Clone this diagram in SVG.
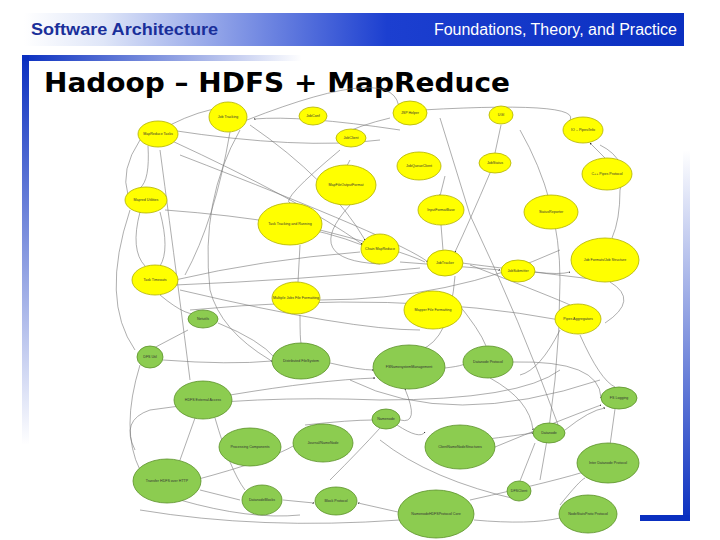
<svg xmlns="http://www.w3.org/2000/svg" width="720" height="540" viewBox="0 0 720 540">
<defs>
<linearGradient id="hdr" x1="0" x2="1" y1="0" y2="0"><stop offset="0" stop-color="#ffffff"/><stop offset="0.12" stop-color="#dfe6f8"/><stop offset="0.55" stop-color="#1c3fd0"/><stop offset="1" stop-color="#0a2fc0"/></linearGradient>
<linearGradient id="topbar" x1="0" x2="1"><stop offset="0" stop-color="#0a2fc0"/><stop offset="1" stop-color="#0a2fc0" stop-opacity="0"/></linearGradient>
<linearGradient id="leftbar" x1="0" x2="0" y1="0" y2="1"><stop offset="0" stop-color="#0a2fc0"/><stop offset="1" stop-color="#0a2fc0" stop-opacity="0"/></linearGradient>
<linearGradient id="rightbar" x1="0" x2="0" y1="0" y2="1"><stop offset="0" stop-color="#0a2fc0" stop-opacity="0"/><stop offset="1" stop-color="#0a2fc0"/></linearGradient>
<marker id="ah" viewBox="0 0 6 6" refX="5" refY="3" markerWidth="3" markerHeight="3" orient="auto"><path d="M0 0L6 3L0 6z" fill="#222"/></marker>
</defs>
<style>
.y{fill:#ffff00;stroke:#b0b000;stroke-width:0.8}
.g{fill:#8ccc50;stroke:#5a9028;stroke-width:0.8}
.t{font-family:"Liberation Sans",Arial,sans-serif;font-size:3.6px;fill:#333;text-anchor:middle}
#edges path{fill:none;stroke:#777;stroke-width:0.6}
.a{marker-end:url(#ah)}
</style>
<rect x="24" y="13" width="660" height="33" fill="url(#hdr)"/>
<text x="31" y="35" font-family="Liberation Sans,Arial,sans-serif" font-size="17" font-weight="bold" fill="#1a2f9a" textLength="187" lengthAdjust="spacingAndGlyphs">Software Architecture</text>
<text x="677" y="35" font-family="Liberation Sans,Arial,sans-serif" font-size="16" fill="#ffffff" text-anchor="end">Foundations, Theory, and Practice</text>
<rect x="22" y="55" width="280" height="6" fill="url(#topbar)"/>
<rect x="22" y="55" width="7" height="390" fill="url(#leftbar)"/>
<rect x="683" y="150" width="7" height="371" fill="url(#rightbar)"/>
<rect x="640" y="515" width="50" height="6" fill="#0a2fc0"/>
<text x="44" y="92" font-family="DejaVu Sans,Verdana,sans-serif" font-size="27" font-weight="bold" fill="#000" textLength="466" lengthAdjust="spacingAndGlyphs">Hadoop – HDFS + MapReduce</text>
<g id="edges">
<path class="a" d="M170 125 Q200 110 222 108"/>
<path class="a" d="M247 120 Q400 60 399 111"/>
<path class="a" d="M400 130 Q300 115 254 119"/>
<path class="a" d="M390 118 Q360 125 338 136"/>
<path d="M422 110 Q600 100 565 125"/>
<path d="M170 130 Q300 150 380 140"/>
<path d="M140 140 Q120 170 128 195"/>
<path d="M148 146 Q150 180 140 188"/>
<path d="M140 212 Q130 250 145 266"/>
<path d="M160 212 Q170 250 160 266"/>
<path class="a" d="M165 210 Q300 220 362 245"/>
<path class="a" d="M170 140 Q300 200 362 244"/>
<path class="a" d="M250 125 Q330 180 365 240"/>
<path class="a" d="M180 155 Q400 240 428 262"/>
<path d="M240 130 Q200 200 210 290 Q220 330 270 360"/>
<path d="M230 132 Q215 220 185 275"/>
<path class="a" d="M400 262 Q480 268 500 270"/>
<path class="a" d="M535 272 Q560 275 570 272"/>
<path class="a" d="M462 263 Q500 268 600 280"/>
<path class="a" d="M445 176 L440 196"/>
<path d="M441 225 L443 250"/>
<path d="M501 125 L495 153"/>
<path class="a" d="M490 173 Q470 220 455 252"/>
<path class="a" d="M605 158 L590 143"/>
<path d="M600 145 Q630 160 620 190 Q620 220 612 238"/>
<path d="M610 282 Q640 300 605 323"/>
<path d="M175 280 Q260 260 360 252"/>
<path d="M175 285 Q300 280 420 268"/>
<path d="M300 245 L298 282"/>
<path d="M350 205 Q300 260 380 264"/>
<path d="M320 230 Q400 250 425 262"/>
<path d="M440 118 L470 215 Q520 320 560 430"/>
<path d="M455 276 Q450 340 420 350"/>
<path d="M470 265 Q560 300 570 305"/>
<path d="M160 295 Q190 320 200 312"/>
<path d="M188 330 L150 350"/>
<path class="a" d="M163 360 Q230 365 272 361"/>
<path class="a" d="M218 323 Q260 340 275 358"/>
<path class="a" d="M330 363 Q360 370 373 370"/>
<path class="a" d="M230 395 Q320 380 375 378"/>
<path d="M445 368 Q470 365 463 362"/>
<path class="a" d="M490 378 Q530 400 533 430"/>
<path class="a" d="M513 362 Q600 360 601 398"/>
<path class="a" d="M480 440 Q520 435 533 433"/>
<path class="a" d="M495 447 Q560 420 601 405"/>
<path class="a" d="M565 430 Q590 410 605 408"/>
<path d="M610 445 L615 409"/>
<path class="a" d="M305 425 Q350 420 373 420"/>
<path class="a" d="M400 420 Q420 425 405 389"/>
<path class="a" d="M397 425 Q420 440 425 432"/>
<path d="M330 480 Q360 450 380 428"/>
<path d="M195 480 Q270 460 295 445"/>
<path d="M200 490 L240 500"/>
<path class="a" d="M283 500 L314 503"/>
<path class="a" d="M398 512 L358 503"/>
<path d="M140 470 Q120 430 140 365"/>
<path d="M180 460 L195 418"/>
<path d="M215 418 Q230 470 245 490"/>
<path d="M520 481 L535 443"/>
<path d="M470 500 Q560 480 590 470"/>
<path d="M560 505 Q580 480 585 478"/>
<path d="M474 520 Q530 525 560 518"/>
<path d="M140 510 Q260 530 400 520"/>
<path d="M135 450 Q120 420 150 410 Q250 395 380 400 Q520 400 560 370"/>
<path d="M190 310 Q400 290 560 320"/>
<path d="M300 315 Q300 340 301 343"/>
<path d="M455 300 Q480 330 486 346"/>
<path d="M560 330 Q540 370 520 375"/>
<path d="M580 335 Q600 380 615 387"/>
<path d="M130 210 Q100 300 135 350"/>
<path d="M180 500 Q250 520 300 515"/>
<path d="M340 150 Q280 200 290 203"/>
<path d="M350 160 Q345 170 346 165"/>
<path d="M180 290 Q350 330 420 330"/>
<path d="M320 300 Q450 300 560 250"/>
<path d="M380 440 Q430 480 520 500"/>
<path d="M350 380 Q450 430 600 380"/>
<path d="M520 130 Q560 200 560 280 Q560 380 540 480"/>
<path d="M160 150 Q180 300 190 380"/>
</g>
<g id="n1"><ellipse class="y" cx="228" cy="117" rx="19" ry="15"/><text class="t" x="228" y="118">Job Tracking</text></g>
<g id="n2"><ellipse class="y" cx="313" cy="116" rx="14" ry="9"/><text class="t" x="313" y="117">JobConf</text></g>
<g id="n3"><ellipse class="y" cx="410" cy="113" rx="17" ry="12"/><text class="t" x="410" y="114">JSP Helper</text></g>
<g id="n4"><ellipse class="y" cx="501" cy="115" rx="12" ry="9"/><text class="t" x="501" y="116">UGI</text></g>
<g id="n5"><ellipse class="y" cx="158" cy="134" rx="20" ry="13"/><text class="t" x="158" y="135">MapReduce Tasks</text></g>
<g id="n6"><ellipse class="y" cx="351" cy="138" rx="15" ry="9"/><text class="t" x="351" y="139">JobClient</text></g>
<g id="n7"><ellipse class="y" cx="583" cy="130" rx="20" ry="13"/><text class="t" x="583" y="131">IO – Pipes/Info</text></g>
<g id="n8"><ellipse class="y" cx="419" cy="166" rx="22" ry="14"/><text class="t" x="419" y="167">JobQueueClient</text></g>
<g id="n9"><ellipse class="y" cx="495" cy="163" rx="16" ry="10"/><text class="t" x="495" y="164">JobStatus</text></g>
<g id="n10"><ellipse class="y" cx="346" cy="185" rx="30" ry="20"/><text class="t" x="346" y="186">MapFileOutputFormat</text></g>
<g id="n11"><ellipse class="y" cx="607" cy="174" rx="25" ry="16"/><text class="t" x="607" y="175">C++ Pipes Protocol</text></g>
<g id="n12"><ellipse class="y" cx="146" cy="200" rx="21" ry="13"/><text class="t" x="146" y="201">Mapred Utilities</text></g>
<g id="n13"><ellipse class="y" cx="441" cy="210" rx="23" ry="15"/><text class="t" x="441" y="211">InputFormatBase</text></g>
<g id="n14"><ellipse class="y" cx="551" cy="212" rx="27" ry="17"/><text class="t" x="551" y="213">StatusReporter</text></g>
<g id="n15"><ellipse class="y" cx="290" cy="224" rx="32" ry="21"/><text class="t" x="290" y="225">Task Tracking and Running</text></g>
<g id="n16"><ellipse class="y" cx="380" cy="249" rx="19" ry="15"/><text class="t" x="380" y="250">Chain MapReduce</text></g>
<g id="n17"><ellipse class="y" cx="445" cy="263" rx="18" ry="13"/><text class="t" x="445" y="264">JobTracker</text></g>
<g id="n18"><ellipse class="y" cx="518" cy="271" rx="17" ry="11"/><text class="t" x="518" y="272">JobSubmitter</text></g>
<g id="n19"><ellipse class="y" cx="605" cy="260" rx="34" ry="22"/><text class="t" x="605" y="261">Job Formats/Job Structure</text></g>
<g id="n20"><ellipse class="y" cx="155" cy="280" rx="23" ry="15"/><text class="t" x="155" y="281">Task Timeouts</text></g>
<g id="n21"><ellipse class="y" cx="296" cy="298" rx="24" ry="16"/><text class="t" x="296" y="299">Multiple Jobs File Formatting</text></g>
<g id="n22"><ellipse class="y" cx="433" cy="310" rx="29" ry="19"/><text class="t" x="433" y="311">Mapper File Formatting</text></g>
<g id="n23"><ellipse class="y" cx="578" cy="319" rx="23" ry="15"/><text class="t" x="578" y="320">Pipes Aggregators</text></g>
<g id="n24"><ellipse class="g" cx="203" cy="319" rx="15" ry="9"/><text class="t" x="203" y="320">Netutils</text></g>
<g id="n25"><ellipse class="g" cx="150" cy="357" rx="13" ry="11"/><text class="t" x="150" y="358">DFS Util</text></g>
<g id="n26"><ellipse class="g" cx="301" cy="361" rx="29" ry="18"/><text class="t" x="301" y="362">Distributed FileSystem</text></g>
<g id="n27"><ellipse class="g" cx="409" cy="367" rx="36" ry="22"/><text class="t" x="409" y="368">FSNamesystemManagement</text></g>
<g id="n28"><ellipse class="g" cx="488" cy="362" rx="25" ry="16"/><text class="t" x="488" y="363">Datanode Protocol</text></g>
<g id="n29"><ellipse class="g" cx="203" cy="400" rx="29" ry="19"/><text class="t" x="203" y="401">HDFS External Access</text></g>
<g id="n30"><ellipse class="g" cx="619" cy="398" rx="18" ry="11"/><text class="t" x="619" y="399">FS Logging</text></g>
<g id="n31"><ellipse class="g" cx="386" cy="419" rx="14" ry="10"/><text class="t" x="386" y="420">Namenode</text></g>
<g id="n32"><ellipse class="g" cx="250" cy="447" rx="31" ry="19"/><text class="t" x="250" y="448">Processing Components</text></g>
<g id="n33"><ellipse class="g" cx="323" cy="443" rx="30" ry="19"/><text class="t" x="323" y="444">Journal/NameNode</text></g>
<g id="n34"><ellipse class="g" cx="549" cy="433" rx="16" ry="10"/><text class="t" x="549" y="434">Datanode</text></g>
<g id="n35"><ellipse class="g" cx="460" cy="447" rx="35" ry="22"/><text class="t" x="460" y="448">ClientNameNodeStructures</text></g>
<g id="n36"><ellipse class="g" cx="608" cy="463" rx="31" ry="20"/><text class="t" x="608" y="464">Inter Datanode Protocol</text></g>
<g id="n37"><ellipse class="g" cx="167" cy="481" rx="34" ry="22"/><text class="t" x="167" y="482">Transfer HDFS over HTTP</text></g>
<g id="n38"><ellipse class="g" cx="262" cy="500" rx="20" ry="15"/><text class="t" x="262" y="501">DatanodeBlocks</text></g>
<g id="n39"><ellipse class="g" cx="336" cy="501" rx="21" ry="14"/><text class="t" x="336" y="502">Block Protocol</text></g>
<g id="n40"><ellipse class="g" cx="519" cy="491" rx="12" ry="10"/><text class="t" x="519" y="492">DFSClient</text></g>
<g id="n41"><ellipse class="g" cx="436" cy="514" rx="38" ry="24"/><text class="t" x="436" y="515">NamenodeHDFSProtocol Core</text></g>
<g id="n42"><ellipse class="g" cx="588" cy="514" rx="29" ry="19"/><text class="t" x="588" y="515">NodeStatsProto Protocol</text></g>
</svg>
